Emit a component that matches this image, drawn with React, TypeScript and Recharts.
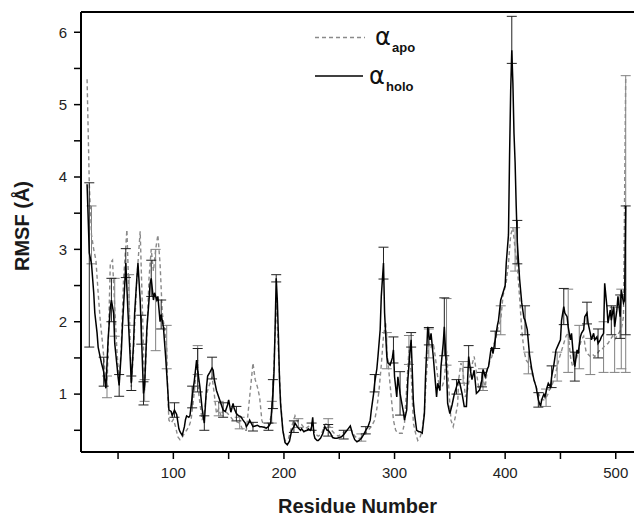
import React from 'react';
import { LineChart, Line, XAxis, YAxis, ErrorBar, ReferenceLine, Label } from 'recharts';

// ---- data ----
const holoResidue = [
  22, 24, 26, 28, 29, 31, 32, 34, 35, 37,
  39, 41, 43, 44, 46, 47, 49, 50, 51, 53,
  54, 56, 57, 59, 61, 62, 64, 65, 67, 68,
  70, 71, 73, 74, 76, 78, 79, 80, 82, 83,
  85, 86, 88, 89, 91, 93, 95, 96, 98, 99,
  101, 103, 105, 106, 108, 110, 111, 112, 114, 115,
  117, 119, 121, 122, 124, 126, 128, 130, 131, 133,
  135, 136, 137, 139, 141, 143, 145, 147, 149, 150,
  152, 154, 155, 157, 159, 161, 163, 165, 166, 168,
  169, 171, 172, 174, 176, 178, 180, 182, 184, 186,
  188, 189, 190, 191, 192, 193, 194, 195, 196, 197,
  199, 201, 203, 205, 207, 209, 210, 212, 213, 215,
  216, 218, 219, 221, 222, 224, 225, 226, 227, 228,
  230, 231, 233, 235, 237, 239, 240, 242, 244, 246,
  248, 250, 252, 254, 256, 258, 260, 262, 264, 266,
  268, 270, 272, 274, 276, 278, 279, 281, 282, 284,
  285, 287, 288, 290, 291, 293, 294, 296, 297, 298,
  299, 300, 302, 303, 305, 306, 308, 309, 311, 312,
  314, 315, 316, 317, 318, 320, 322, 323, 325, 327,
  328, 330, 331, 332, 333, 335, 336, 338, 339, 341,
  342, 344, 345, 347, 348, 350, 352, 354, 356, 358,
  359, 361, 363, 365, 367, 369, 370, 372, 374, 376,
  377, 379, 380, 382, 384, 385, 387, 388, 389, 391,
  393, 394, 396, 397, 399, 400, 401, 403, 404, 405,
  406, 407, 408, 409, 410, 411, 413, 415, 417, 418,
  420, 422, 424, 426, 428, 430, 432, 433, 435, 436,
  438, 439, 441, 442, 444, 446, 448, 450, 451, 453,
  454, 456, 457, 459, 460, 462, 463, 465, 466, 468,
  469, 471, 472, 474, 475, 477, 478, 480, 481, 483,
  484, 486, 487, 489, 490, 492, 493, 495, 496, 498,
  499, 501, 502, 504, 505, 507, 508, 509,
];
const holoRmsf = [
  3.9, 2.95, 2.8, 2.4, 2.12, 1.85, 1.65, 1.5, 1.43, 1.31,
  1.08, 1.75, 2.2, 2.3, 2.12, 1.7, 1.4, 1.24, 1.12, 1.6,
  1.95, 2.5, 2.81, 2.12, 1.5, 1.15, 1.7, 2.12, 2.6, 2.81,
  2.3, 1.89, 1.01, 1.1, 1.89, 2.3, 2.53, 2.6, 2.3, 2.4,
  2.3, 2.35, 2.0, 2.1, 1.93, 1.52, 1.05, 0.78, 0.76, 0.7,
  0.78, 0.72, 0.52, 0.48, 0.43, 0.55, 0.65, 0.7, 0.68, 0.7,
  0.96, 1.19, 1.47, 1.33, 1.1, 0.8, 0.6, 1.1, 1.25, 1.3,
  1.36, 1.33, 1.2, 1.05, 0.96, 0.87, 0.78, 0.76, 0.85, 0.92,
  0.75, 0.87, 0.8, 0.73, 0.7, 0.69, 0.64, 0.6, 0.55, 0.6,
  0.64, 0.58, 0.55, 0.56, 0.57, 0.55, 0.55, 0.54, 0.53, 0.55,
  0.6, 0.8, 1.0, 1.3, 1.9, 2.6, 2.3, 1.8, 1.2, 0.85,
  0.5, 0.33, 0.3, 0.35, 0.5, 0.55, 0.6, 0.55, 0.53, 0.5,
  0.52, 0.48, 0.49, 0.5, 0.52, 0.5, 0.55, 0.68, 0.45, 0.39,
  0.36, 0.36, 0.39, 0.45, 0.55, 0.5, 0.5, 0.46, 0.4, 0.39,
  0.39, 0.4, 0.41, 0.44, 0.48, 0.52, 0.56, 0.45, 0.37, 0.34,
  0.36, 0.39, 0.44, 0.5, 0.55, 0.64, 0.78, 1.0, 1.15, 1.35,
  1.52, 1.89, 2.35, 2.81, 2.12, 1.52, 1.43, 1.4, 1.45, 1.5,
  1.61, 1.24, 0.96, 1.24, 1.01, 0.92, 0.75, 0.64, 0.78, 1.19,
  1.6, 1.75, 1.33, 0.9, 0.73, 0.5, 0.48, 0.48, 0.46, 0.73,
  1.24, 1.93, 1.8, 1.75, 1.84, 1.52, 1.33, 0.96, 1.15, 1.05,
  1.38, 1.7, 1.93, 1.33, 0.87, 0.73, 0.85, 1.0, 1.1, 1.19,
  1.15, 1.01, 0.83, 0.83, 1.52, 1.29, 1.2, 1.33, 1.01, 1.04,
  1.06, 1.2, 1.34, 1.24, 1.35, 1.38, 1.6, 1.65, 1.56, 1.75,
  1.95, 2.02, 2.3, 2.35, 2.45, 2.5, 2.81, 3.2, 4.3, 5.2,
  5.75, 5.3, 4.6, 4.2, 3.6, 3.1, 2.6, 2.26, 2.05, 2.02,
  1.89, 1.55, 1.35, 1.2, 1.1, 0.92, 0.83, 0.92, 1.0, 0.96,
  1.1, 1.15, 1.1, 1.24, 1.4, 1.61, 1.68, 1.75, 2.02, 2.21,
  2.12, 2.07, 1.93, 1.75, 1.84, 1.47, 1.38, 1.61, 1.56, 1.79,
  1.84, 1.89, 2.07, 2.12, 1.98, 1.84, 1.75, 1.84, 1.75, 1.79,
  1.7, 1.75, 1.79, 1.84, 2.53, 2.21, 1.98, 2.16, 2.02, 2.21,
  1.93, 2.16, 2.35, 2.07, 2.44, 2.26, 2.3, 3.6,
];

const apoResidue = [
  22, 24, 26, 28, 30, 32, 34, 36, 38, 40,
  41, 43, 45, 47, 49, 51, 53, 55, 58, 60,
  62, 64, 67, 70, 72, 74, 76, 78, 80, 82,
  84, 86, 88, 90, 92, 94, 95, 96, 98, 100,
  102, 104, 106, 108, 110, 112, 114, 116, 118, 120,
  122, 123, 126, 128, 130, 132, 135, 137, 139, 141,
  143, 145, 148, 151, 154, 157, 160, 163, 166, 169,
  172, 174, 176, 178, 180, 182, 185, 187, 189, 191,
  193, 195, 197, 199, 201, 204, 207, 210, 213, 216,
  219, 222, 225, 228, 231, 234, 237, 240, 243, 246,
  249, 252, 255, 258, 261, 264, 267, 270, 273, 276,
  279, 282, 284, 286, 288, 290, 292, 293, 295, 297,
  299, 301, 303, 305, 307, 309, 311, 313, 315, 317,
  319, 321, 323, 325, 327, 329, 331, 333, 335, 337,
  339, 341, 343, 345, 347, 349, 351, 353, 355, 357,
  358, 360, 362, 364, 366, 368, 370, 372, 374, 376,
  378, 380, 382, 384, 386, 388, 390, 392, 394, 396,
  398, 401, 403, 405, 407, 409, 411, 413, 415, 417,
  419, 421, 423, 425, 427, 429, 431, 433, 435, 437,
  439, 441, 443, 445, 447, 449, 451, 453, 455, 457,
  459, 461, 463, 465, 467, 469, 471, 473, 475, 477,
  479, 481, 483, 485, 487, 489, 491, 493, 495, 497,
  499, 501, 503, 505, 507, 509,
];
const apoRmsf = [
  5.35, 3.9, 3.2, 3.0, 2.85, 2.4, 2.0, 1.7, 1.35, 1.1,
  1.6, 2.81, 2.85, 2.2, 1.6, 1.15, 1.7, 2.6, 3.27, 2.3,
  1.1, 1.6, 2.6, 3.25, 2.2, 1.05, 1.8, 2.6, 3.0, 2.7,
  3.0, 3.2, 2.8, 2.12, 1.9, 1.65, 0.96, 0.64, 0.6, 0.65,
  0.55, 0.41, 0.37, 0.4, 0.46, 0.5, 0.55, 0.64, 0.9, 1.2,
  1.47, 1.0, 0.64, 0.75, 1.0, 1.1, 1.24, 1.0, 0.73, 0.8,
  0.7, 0.78, 0.75, 0.7, 0.64, 0.62, 0.6, 0.5, 0.5, 0.96,
  1.43, 1.2, 1.1, 0.96, 0.64, 0.55, 0.52, 0.6, 0.75, 1.4,
  2.3, 1.6, 0.9, 0.5, 0.35, 0.38, 0.55, 0.7, 0.6, 0.58,
  0.52, 0.55, 0.6, 0.45, 0.42, 0.45, 0.58, 0.6, 0.5, 0.45,
  0.42, 0.45, 0.48, 0.5, 0.5, 0.42, 0.38, 0.4, 0.45, 0.5,
  0.55, 0.64, 0.8, 1.06, 1.4, 1.8, 2.0, 1.6, 1.29, 0.96,
  0.64, 0.5, 0.46, 0.46, 0.46, 0.6, 1.1, 1.61, 1.3, 0.6,
  0.46, 0.36, 0.4, 0.5, 0.78, 1.3, 1.7, 1.65, 1.7, 1.5,
  1.24, 1.06, 1.1, 1.2, 1.6, 1.1, 0.64, 0.55, 0.69, 0.85,
  1.2, 1.43, 1.3, 0.96, 1.06, 1.24, 1.4, 1.52, 1.3, 1.1,
  1.15, 1.2, 1.1, 1.35, 1.45, 1.52, 1.7, 1.8, 1.95, 2.02,
  2.35, 2.55, 2.8, 3.2, 3.3, 3.0, 2.75, 2.35, 1.89, 1.6,
  1.47, 1.43, 1.38, 1.24, 1.15, 1.06, 0.98, 0.92, 0.92, 0.95,
  1.01, 1.1, 1.15, 1.24, 1.38, 1.5, 1.6, 1.7, 1.8, 1.85,
  1.52, 1.38, 1.43, 1.52, 1.65, 1.75, 1.8, 1.6, 1.55, 1.52,
  1.55, 1.52, 1.55, 1.6, 1.6, 1.65, 1.68, 1.7, 1.75, 1.8,
  1.75, 1.8, 1.85, 1.9, 2.07, 5.4,
];

// [residue, minus, plus]
const holoErrors: [number, number, number][] = [
  [24, 1.3, 0.97], [37, 0.2, 0.2], [44, 0.3, 0.3], [51, 0.15, 0.15], [57, 0.2, 0.2],
  [62, 0.1, 0.1], [71, 0.2, 0.2], [73, 0.16, 0.16], [80, 0.25, 0.25], [89, 0.2, 0.2],
  [101, 0.1, 0.1], [117, 0.15, 0.15], [122, 0.3, 0.3], [128, 0.1, 0.1], [135, 0.15, 0.15],
  [145, 0.1, 0.1], [157, 0.1, 0.1], [172, 0.06, 0.06], [186, 0.05, 0.05], [190, 0.2, 0.2],
  [193, 0.05, 0.05], [209, 0.08, 0.08], [225, 0.05, 0.05], [240, 0.08, 0.08], [254, 0.06, 0.06],
  [274, 0.05, 0.05], [282, 0.12, 0.12], [290, 0.22, 0.22], [299, 0.18, 0.18], [305, 0.3, 0.3],
  [315, 0.1, 0.1], [331, 0.12, 0.12], [345, 0.4, 0.4], [356, 0.1, 0.1], [367, 0.15, 0.15],
  [379, 0.1, 0.1], [391, 0.12, 0.12], [406, 0.18, 0.47], [411, 0.3, 0.3], [418, 0.2, 0.2],
  [430, 0.1, 0.1], [442, 0.15, 0.15], [453, 0.25, 0.25], [463, 0.2, 0.2], [474, 0.15, 0.15],
  [484, 0.2, 0.2], [496, 0.2, 0.2], [504, 0.3, 0.3], [509, 1.78, 0],
];
const apoErrors: [number, number, number][] = [
  [26, 0.4, 0.4], [40, 0.15, 0.15], [47, 0.4, 0.4], [60, 0.35, 0.35], [74, 0.15, 0.15],
  [84, 1.4, 0], [94, 0.3, 0.3], [122, 0.2, 0.2], [141, 0.1, 0.1], [160, 0.08, 0.08],
  [189, 0.15, 0.15], [213, 0.06, 0.06], [240, 0.06, 0.06], [270, 0.05, 0.05], [293, 0.25, 0.25],
  [313, 0.2, 0.2], [331, 0.2, 0.2], [347, 0.2, 0.72], [362, 0.15, 0.15], [380, 0.15, 0.15],
  [396, 0.2, 0.2], [409, 0.3, 0.3], [421, 0.15, 0.15], [437, 0.12, 0.12], [447, 0.2, 0.2],
  [457, 0.55, 0.6], [467, 0.3, 0.3], [477, 0.25, 0.25], [489, 0.35, 0.35], [499, 0.45, 0.45],
  [505, 0.55, 0.55], [509, 4.1, 0],
];

const xTicks = [50, 100, 150, 200, 250, 300, 350, 400, 450, 500];
const xTickLabels = [100, 200, 300, 400, 500];
const yTicks = [0.5, 1, 1.5, 2, 2.5, 3, 3.5, 4, 4.5, 5, 5.5, 6];
const yTickLabels = [1, 2, 3, 4, 5, 6];

const xTitle = 'Residue Number';
const yTitle = 'RMSF (Å)';
const apoName = 'apo';
const holoName = 'holo';

function buildSeries(res: number[], vals: number[], errs: [number, number, number][]) {
  const errMap = new Map<number, [number, number]>();
  errs.forEach(([r, lo, hi]) => errMap.set(r, [lo, hi]));
  return res.map((r, i) => ({ residue: r, rmsf: vals[i], err: errMap.get(r) }));
}

const holoData = buildSeries(holoResidue, holoRmsf, holoErrors);
const apoData = buildSeries(apoResidue, apoRmsf, apoErrors);

const FONT = '"Liberation Sans", Arial, sans-serif';
const GREEK = '"DejaVu Sans", sans-serif';

const renderYTitle = (props: any) => {
  const vb = props.viewBox || { x: 0, y: 12, width: 81, height: 440 };
  const cx = vb.x + 29;
  const cy = vb.y + vb.height / 2 - 6;
  return (
    <text x={cx} y={cy} transform={`rotate(-90 ${cx} ${cy})`} textAnchor="middle"
      fontFamily={FONT} fontWeight="bold" fontSize={20} fill="#1a1a1a">{yTitle}</text>
  );
};

const renderXTitle = (props: any) => {
  const vb = props.viewBox || { x: 81, y: 452, width: 553, height: 64 };
  return (
    <text x={vb.x + vb.width / 2} y={vb.y + 61} textAnchor="middle"
      fontFamily={FONT} fontWeight="bold" fontSize={20} fill="#1a1a1a">{xTitle}</text>
  );
};

export default function App() {
  return (
    <div style={{ position: 'absolute', left: 0, top: 0, width: 634, height: 516, background: '#fff' }}>
      <LineChart width={634} height={516} margin={{ top: 12, right: 0, bottom: 0, left: 0 }}>
        <XAxis
          type="number"
          dataKey="residue"
          domain={[16.5, 516.5]}
          allowDataOverflow
          ticks={xTicks}
          interval={0}
          tickFormatter={(v: number) => (xTickLabels.includes(v) ? String(v) : '')}
          tickSize={7}
          tickMargin={8}
          height={64}
          axisLine={{ stroke: '#000', strokeWidth: 2 }}
          tickLine={{ stroke: '#000', strokeWidth: 1.5 }}
          tick={{ fill: '#222', fontSize: 15, fontFamily: FONT }}
        >
          <Label content={renderXTitle} />
        </XAxis>
        <YAxis
          type="number"
          domain={[0.2, 6.28]}
          allowDataOverflow
          ticks={yTicks}
          interval={0}
          tickFormatter={(v: number) => (yTickLabels.includes(v) ? String(v) : '')}
          tickSize={7}
          tickMargin={7}
          width={81}
          axisLine={{ stroke: '#000', strokeWidth: 2 }}
          tickLine={{ stroke: '#000', strokeWidth: 1.5 }}
          tick={{ fill: '#222', fontSize: 15, fontFamily: FONT }}
        >
          <Label content={renderYTitle} />
        </YAxis>
        <ReferenceLine y={6.28} stroke="#000" strokeWidth={2} ifOverflow="visible" />
        <Line
          data={apoData}
          dataKey="rmsf"
          type="linear"
          stroke="#8a8a8a"
          strokeWidth={1.4}
          strokeDasharray="4 3"
          dot={false}
          isAnimationActive={false}
        >
          <ErrorBar dataKey="err" width={5} stroke="#808080" strokeWidth={1} direction="y" />
        </Line>
        <Line
          data={holoData}
          dataKey="rmsf"
          type="linear"
          stroke="#000"
          strokeWidth={1.5}
          dot={false}
          isAnimationActive={false}
        >
          <ErrorBar dataKey="err" width={5} stroke="#222" strokeWidth={1} direction="y" />
        </Line>
      </LineChart>
      <svg width={634} height={516} style={{ position: 'absolute', left: 0, top: 0, pointerEvents: 'none' }}>
        <line x1={315} y1={37.5} x2={365} y2={37.5} stroke="#8a8a8a" strokeWidth={1.4} strokeDasharray="4 3" />
        <text x={375} y={45} fontFamily={GREEK} fontSize={24} fill="#111">α</text>
        <text x={392} y={52} fontFamily={FONT} fontWeight="bold" fontSize={13} fill="#111">{apoName}</text>
        <line x1={315} y1={76} x2={363} y2={76} stroke="#000" strokeWidth={1.5} />
        <text x={369} y={84} fontFamily={GREEK} fontSize={24} fill="#111">α</text>
        <text x={386} y={91} fontFamily={FONT} fontWeight="bold" fontSize={13} fill="#111">{holoName}</text>
      </svg>
    </div>
  );
}
